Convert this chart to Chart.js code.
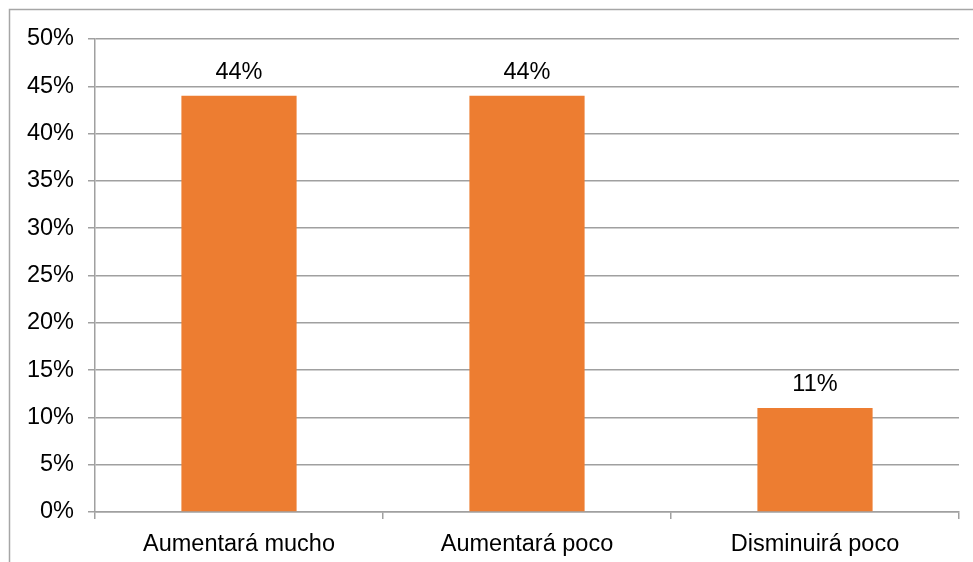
<!DOCTYPE html>
<html>
<head>
<meta charset="utf-8">
<script src="https://cdn.jsdelivr.net/npm/chart.js@4"></script>
<style>
  html, body { margin: 0; padding: 0; background: #fff; }
  canvas { display: block; }
</style>
</head>
<body>
<canvas id="chart" width="973" height="562"></canvas>
<script>
const categories = ['Aumentará mucho', 'Aumentará poco', 'Disminuirá poco'];
const values = [44, 44, 11];
const yMin = 0;
const yMax = 50;
const yStep = 5;

const fontFamily = '"Liberation Sans", Arial, sans-serif';
const fontSize = 23.5;

// outer frame like the exported picture
const framePlugin = {
  id: 'frame',
  beforeDraw(chart) {
    const ctx = chart.ctx;
    ctx.save();
    ctx.fillStyle = '#fff';
    ctx.fillRect(0, 0, chart.width, chart.height);
    ctx.strokeStyle = '#a6a6a6';
    ctx.lineWidth = 1.5;
    ctx.strokeRect(9.5, 9.5, chart.width + 20, chart.height + 20);
    ctx.restore();
  }
};

// value labels above each bar
const barLabels = {
  id: 'barLabels',
  afterDatasetsDraw(chart) {
    const ctx = chart.ctx;
    const meta = chart.getDatasetMeta(0);
    ctx.save();
    ctx.font = fontSize + 'px ' + fontFamily;
    ctx.fillStyle = '#000';
    ctx.textAlign = 'center';
    ctx.textBaseline = 'alphabetic';
    meta.data.forEach((bar, i) => {
      ctx.fillText(values[i] + '%', bar.x, bar.y - 17);
    });
    ctx.restore();
  }
};

new Chart(document.getElementById('chart'), {
  type: 'bar',
  data: {
    labels: categories,
    datasets: [{
      data: values,
      backgroundColor: '#ED7D31',
      borderWidth: 0,
      barPercentage: 0.4,
      categoryPercentage: 1
    }]
  },
  options: {
    responsive: false,
    animation: false,
    layout: {
      padding: { left: 0, right: 14, top: 39, bottom: 0 }
    },
    plugins: {
      legend: { display: false },
      tooltip: { enabled: false }
    },
    scales: {
      x: {
        grid: {
          offset: true,
          drawOnChartArea: false,
          drawTicks: true,
          tickLength: 7,
          color: '#a0a0a0',
          lineWidth: 1.5
        },
        border: { color: '#a0a0a0', width: 1.5 },
        ticks: {
          color: '#000',
          font: { family: fontFamily, size: fontSize },
          padding: 11,
          maxRotation: 0
        },
        afterFit: (scale) => { scale.height = 50; }
      },
      y: {
        min: yMin,
        max: yMax,
        grid: {
          color: '#a0a0a0',
          lineWidth: 1.5,
          tickLength: 7
        },
        border: { color: '#a0a0a0', width: 1.5 },
        ticks: {
          stepSize: yStep,
          color: '#000',
          font: { family: fontFamily, size: fontSize },
          padding: 14,
          callback: (v) => v + '%'
        },
        afterFit: (scale) => { scale.width = 95; }
      }
    }
  },
  plugins: [framePlugin, barLabels]
});
</script>
</body>
</html>
